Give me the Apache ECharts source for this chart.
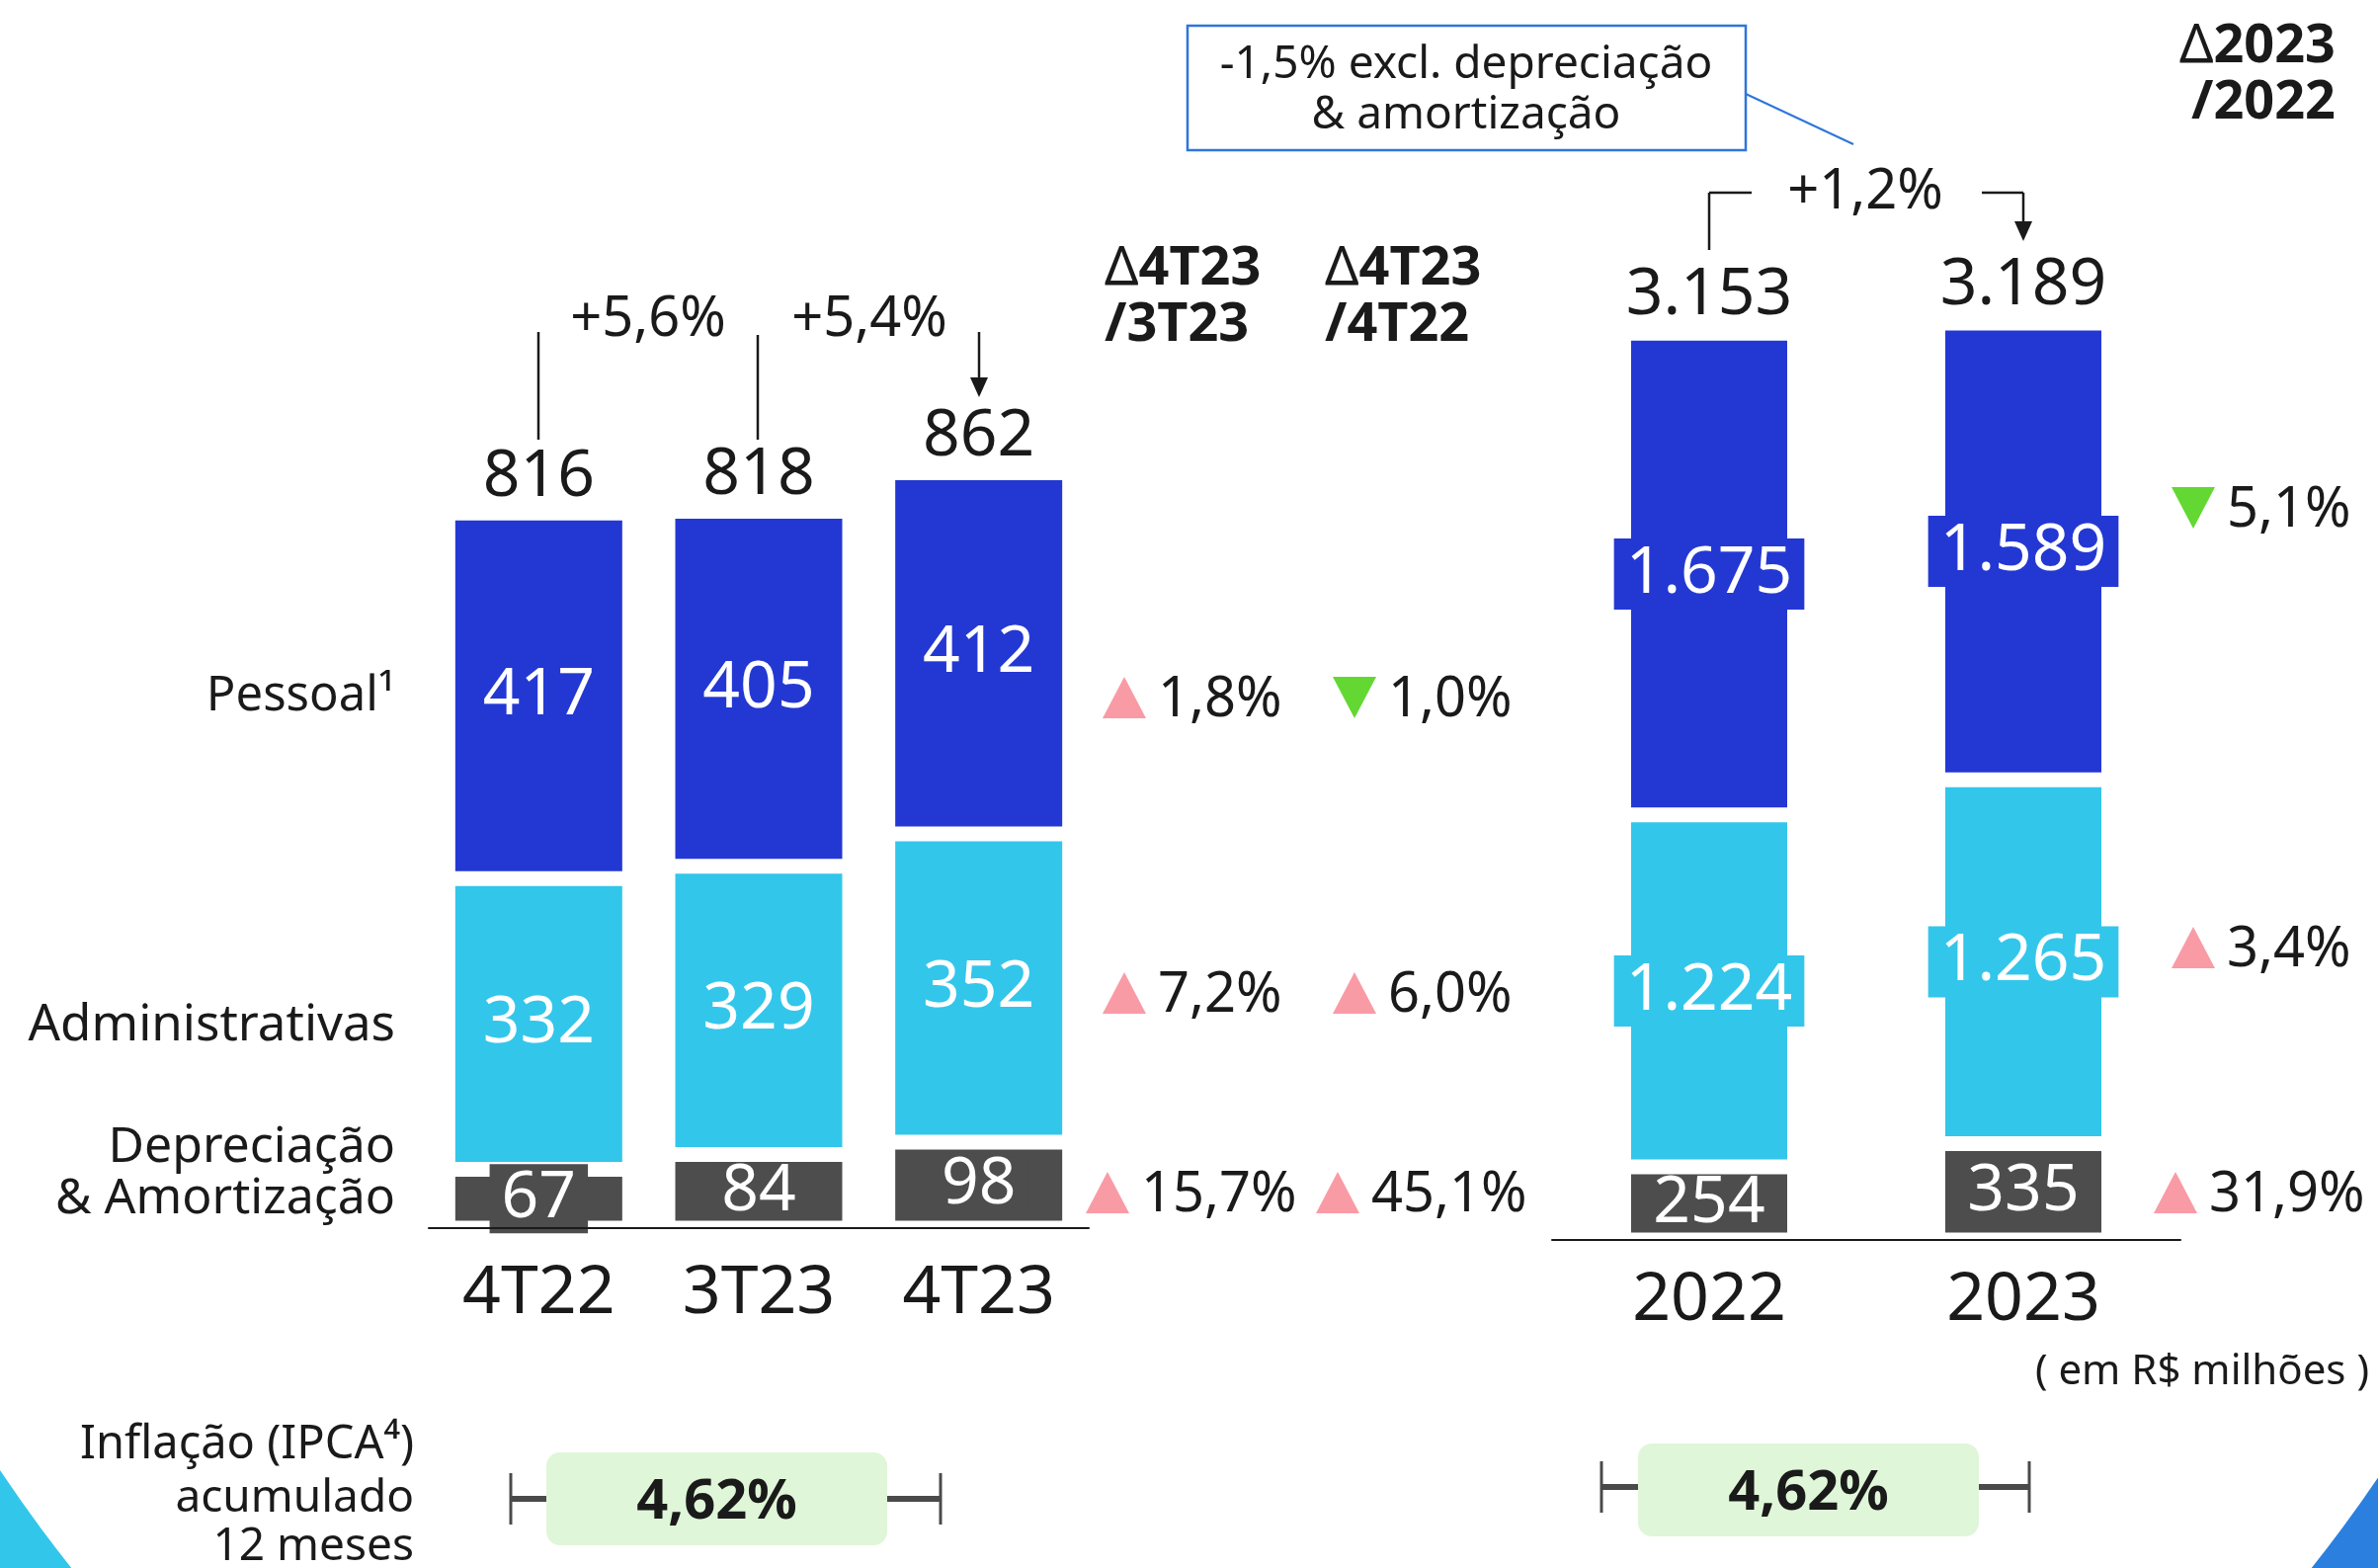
<!DOCTYPE html>
<html>
<head>
<meta charset="utf-8">
<title>Despesas</title>
<script src="https://cdn.jsdelivr.net/npm/echarts@6/dist/echarts.min.js"></script>
<style>
  html, body { margin: 0; padding: 0; background: #fff; }
  #chart { width: 2407px; height: 1587px; }
</style>
</head>
<body>
<div id="chart"></div>
<script>
// dados (R$ milhões)
const trimestres = ['4T22', '3T23', '4T23']
const pessoalTri = [417, 405, 412]
const adminTri = [332, 329, 352]
const deprecTri = [67, 84, 98]
const totalTri = [816, 818, 862]

const anos = ['2022', '2023']
const pessoalAno = [1675, 1589]
const adminAno = [1224, 1265]
const deprecAno = [254, 335]
const totalAno = [3153, 3189]

const varTri = ['+5,6%', '+5,4%']
const varAno = '+1,2%'
// ordem: pessoal, administrativas, depreciação
const deltaVs3T23 = [['up', '1,8%'], ['up', '7,2%'], ['up', '15,7%']]
const deltaVs4T22 = [['down', '1,0%'], ['up', '6,0%'], ['up', '45,1%']]
const deltaAno = [['down', '5,1%'], ['up', '3,4%'], ['up', '31,9%']]
const ipca = ['4,62%', '4,62%']

const FONT = '"Noto Sans", sans-serif'
const INK = '#1a1a1a'
const AZUL = '#2338D3'
const CIANO = '#33C6EB'
const CINZA = '#4D4D4D'
const ROSA = '#F99BA5'
const VERDE = '#63D833'

const MAX_TRI = 1176, MAX_ANO = 3625
const ALTURA_GRID = 1043

const fmt = v => String(v).replace(/\B(?=(\d{3})+(?!\d))/g, '.')

// rótulo com fundo da cor da barra; barras baixas ganham caixa maior
function barra(name, data, color, gi, stack, width, pad, lh, maxY) {
    const itens = data.map(v => {
        const px = v / maxY * ALTURA_GRID - 15
        return px < 50 ? { value: v, label: { padding: [6, 12] } } : v
    })
    return {
        name, type: 'bar', data: itens, stack,
        xAxisIndex: gi, yAxisIndex: gi,
        barWidth: width,
        silent: true,
        itemStyle: { color, borderColor: '#fff', borderWidth: 7.5 },
        label: {
            show: true, position: 'inside',
            formatter: p => fmt(p.value),
            color: '#fff', fontSize: 66, fontFamily: FONT,
            backgroundColor: color, padding: pad, lineHeight: lh
        }
    }
}

function totais(data, gi, dist) {
    return {
        type: 'scatter', data, xAxisIndex: gi, yAxisIndex: gi,
        symbolSize: 0, silent: true, z: 5,
        itemStyle: { color: INK, opacity: 1 },
        label: {
            show: true, position: 'top', distance: dist,
            formatter: p => fmt(p.value),
            color: INK, opacity: 1, fontSize: 66, fontFamily: FONT, lineHeight: 66
        }
    }
}

function texto(x, y, text, size, extra) {
    return {
        type: 'text', x, y, z: 100, silent: true,
        style: Object.assign({
            text, fontSize: size, fontFamily: FONT, fill: INK,
            textAlign: 'center', textVerticalAlign: 'middle'
        }, extra || {})
    }
}

function linha(x1, y1, x2, y2, w, color) {
    return {
        type: 'line', z: 100, silent: true,
        shape: { x1, y1, x2, y2 },
        style: { stroke: color || INK, lineWidth: w || 2.5 }
    }
}

function seta(x, y) {
    return { type: 'polygon', z: 100, silent: true,
        shape: { points: [[x - 9, y - 20], [x + 9, y - 20], [x, y]] },
        style: { fill: INK } }
}

function delta(x, y, item) {
    const w = 44, h = 42
    const up = item[0] === 'up'
    const pts = up
        ? [[x, y + h / 2 - 3], [x + w, y + h / 2 - 3], [x + w / 2, y - h / 2 - 3]]
        : [[x, y - h / 2 - 3], [x + w, y - h / 2 - 3], [x + w / 2, y + h / 2 - 3]]
    return [
        { type: 'polygon', z: 100, silent: true, shape: { points: pts }, style: { fill: up ? ROSA : VERDE } },
        texto(x + w + 12, y, item[1], 56, { textAlign: 'left' })
    ]
}

function cabecalho(x, y, l1, l2, align) {
    return [
        texto(x, y, '{d|Δ}{b|' + l1 + '}', 54, { textAlign: align,
            rich: { d: { fontSize: 54, fontFamily: FONT, fill: INK }, b: { fontSize: 54, fontFamily: FONT, fontWeight: 'bold', fill: INK } } }),
        texto(x, y + 57, l2, 54, { textAlign: align, fontWeight: 'bold' })
    ]
}

function ipcaCaixa(x, y, w, h, valor, wl, wr, wy) {
    return [
        { type: 'rect', z: 90, silent: true, shape: { x, y, width: w, height: h, r: 14 }, style: { fill: '#DFF6D8' } },
        texto(x + w / 2, y + h / 2 + 4, valor, 56, { fontWeight: 'bold' }),
        linha(wl, wy, x, wy, 6, '#4a4a4a'),
        linha(wl, wy - 26, wl, wy + 26, 3, '#4a4a4a'),
        linha(x + w, wy, wr, wy, 6, '#4a4a4a'),
        linha(wr, wy - 26, wr, wy + 26, 3, '#4a4a4a')
    ]
}

const chart = echarts.init(document.getElementById('chart'))

const fundo = [
    { type: 'rect', z: -10, silent: true, shape: { x: 0, y: 1300, width: 1210, height: 287 }, style: { fill: CIANO } },
    { type: 'rect', z: -10, silent: true, shape: { x: 1200, y: 1300, width: 1207, height: 287 }, style: { fill: '#2B7FDE' } },
    { type: 'circle', z: -9, silent: true, shape: { cx: 1206, cy: 683, r: 1450 }, style: { fill: '#fff' } }
]

const anotacoes = [].concat(
    // rótulos das linhas
    texto(400, 705, 'Pessoal¹', 49, { textAlign: 'right' }),
    texto(400, 1038, 'Administrativas', 51, { textAlign: 'right' }),
    texto(400, 1162, 'Depreciação', 50, { textAlign: 'right' }),
    texto(400, 1214, '& Amortização', 50, { textAlign: 'right' }),
    // variações trimestrais
    linha(545, 336, 545, 445),
    texto(656, 324, varTri[0], 56),
    linha(767, 339, 767, 445),
    texto(880, 324, varTri[1], 56),
    linha(991, 336, 991, 385),
    seta(991, 402),
    // variação anual
    linha(1730, 195, 1773, 195), linha(1730, 195, 1730, 253),
    texto(1888, 195, varAno, 56),
    linha(2006, 195, 2048, 195), linha(2048, 195, 2048, 226),
    seta(2048, 244),
    // caixa de nota
    { type: 'rect', z: 100, silent: true, shape: { x: 1202, y: 26, width: 565, height: 126 },
      style: { fill: '#fff', stroke: '#2E75DB', lineWidth: 2.5 } },
    texto(1484, 66, '-1,5% excl. depreciação', 46),
    texto(1484, 117, '& amortização', 46),
    linha(1767, 95, 1876, 146, 2, '#2E75DB'),
    // cabeçalhos
    cabecalho(1118, 273, '4T23', '/3T23', 'left'),
    cabecalho(1341, 273, '4T23', '/4T22', 'left'),
    cabecalho(2364, 48, '2023', '/2022', 'right'),
    // variações por linha
    delta(1116, 709, deltaVs3T23[0]), delta(1116, 1008, deltaVs3T23[1]), delta(1099, 1210, deltaVs3T23[2]),
    delta(1349, 709, deltaVs4T22[0]), delta(1349, 1008, deltaVs4T22[1]), delta(1332, 1210, deltaVs4T22[2]),
    delta(2198, 517, deltaAno[0]), delta(2198, 962, deltaAno[1]), delta(2180, 1210, deltaAno[2]),
    texto(2398, 1389, '( em R$ milhões )', 42, { textAlign: 'right' }),
    // inflação
    texto(419, 1463, 'Inflação (IPCA⁴)', 47, { textAlign: 'right' }),
    texto(419, 1517, 'acumulado', 46, { textAlign: 'right' }),
    texto(419, 1566, '12 meses', 46, { textAlign: 'right' }),
    ipcaCaixa(553, 1470, 345, 94, ipca[0], 517, 952, 1517),
    ipcaCaixa(1658, 1461, 345, 94, ipca[1], 1621, 2054, 1505)
)

const eixoX = (gi, data, margin, offset) => ({
    type: 'category', gridIndex: gi, data, offset, z: 10,
    axisLine: { lineStyle: { color: INK, width: 2 } },
    axisTick: { show: false },
    axisLabel: { color: INK, fontSize: 68, fontFamily: FONT, margin }
})

const option = {
    animation: false,
    backgroundColor: '#fff',
    grid: [
        { left: 434, right: 1305, top: 200, bottom: 344 },
        { left: 1571, right: 200, top: 200, bottom: 332 }
    ],
    xAxis: [eixoX(0, trimestres, 33, 0), eixoX(1, anos, 24, 4)],
    yAxis: [
        { type: 'value', gridIndex: 0, min: 0, max: MAX_TRI, show: false },
        { type: 'value', gridIndex: 1, min: 0, max: MAX_ANO, show: false }
    ],
    series: [
        barra('Depreciação & Amortização', deprecTri, CINZA, 0, 'tri', 184, [0, 12], 58, MAX_TRI),
        barra('Administrativas', adminTri, CIANO, 0, 'tri', 184, [4, 12], 64, MAX_TRI),
        barra('Pessoal', pessoalTri, AZUL, 0, 'tri', 184, [4, 12], 64, MAX_TRI),
        totais(totalTri, 0, 3),
        barra('Depreciação & Amortização', deprecAno, CINZA, 1, 'ano', 173, [0, 12], 58, MAX_ANO),
        barra('Administrativas', adminAno, CIANO, 1, 'ano', 173, [4, 12], 64, MAX_ANO),
        barra('Pessoal', pessoalAno, AZUL, 1, 'ano', 173, [4, 12], 64, MAX_ANO),
        totais(totalAno, 1, 5)
    ],
    graphic: { elements: fundo.concat(anotacoes) }
}

chart.setOption(option)
</script>
</body>
</html>
